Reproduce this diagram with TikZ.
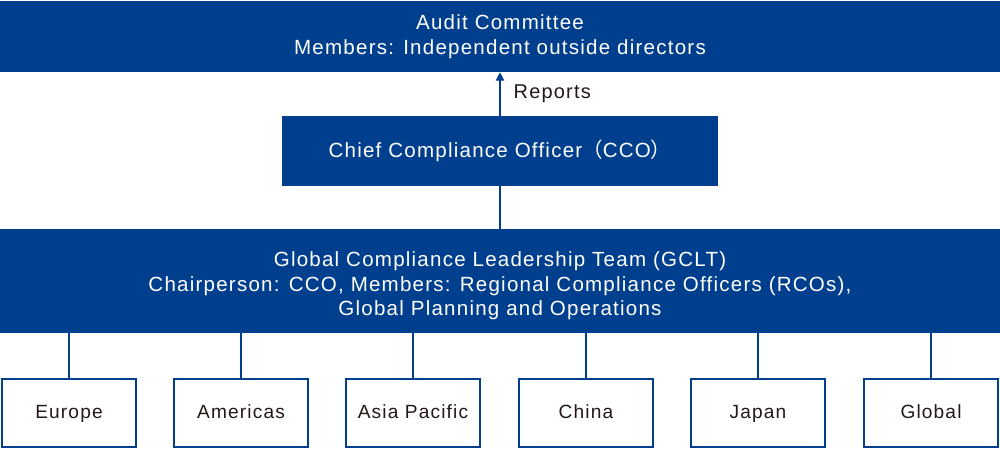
\documentclass[tikz,border=0pt]{standalone}
\usepackage{fontspec}
\setmainfont{Liberation Sans}[LetterSpace=6]
\newfontfamily\cjk{Noto Sans CJK JP}
\usepackage{xcolor}
\usepackage{tikz}
\usetikzlibrary{arrows.meta}
\definecolor{navy}{HTML}{003F8E}
\definecolor{ink}{HTML}{231815}

\begin{document}
\begin{tikzpicture}[x=0.025cm, y=-0.025cm,
        bar/.style={fill=navy, text=white, inner sep=0pt, align=center,
            font=\fontsize{14.6}{17.4}\selectfont},
        region/.style={draw=navy, line width=1.5pt, fill=white, text=ink,
            minimum width=3.35cm, minimum height=1.7cm, inner sep=0pt,
            text height=9.6pt, text depth=2.2pt,
            font=\fontsize{13.6}{15}\selectfont},
        link/.style={draw=navy, line width=0.8pt}]
    \useasboundingbox (0,0) rectangle (1000,450);
    % top and middle
    \node[bar, minimum width=25cm, minimum height=1.775cm] (audit) at (500,36.5)
        {Audit Committee\\Members: Independent outside directors};
    \node[bar, minimum width=10.9cm, minimum height=1.75cm] (cco) at (500,151)
        {Chief Compliance Officer{\cjk （}CCO{\cjk ）}};
    \node[bar, minimum width=25cm, minimum height=2.6cm] (gclt) at (500,281)
        {\rule{0pt}{17.5pt}Global Compliance Leadership Team (GCLT)\\
         Chairperson: CCO, Members: Regional Compliance Officers (RCOs),\\
         Global Planning and Operations};
    \draw[link, -{Triangle[width=6pt, length=6pt]}] (cco) -- (audit)
        node[midway, right=6pt, text=ink, font=\fontsize{14.2}{15}\selectfont] (rep) {Reports};
    \draw[link] (cco) -- (gclt);
    % regions
    \node[region] (eu) at (69,413) {Europe};
    \node[region] (am) at (241,413) {Americas};
    \node[region] (ap) at (413,413) {Asia Pacific};
    \node[region] (cn) at (586,413) {China};
    \node[region] (jp) at (758,413) {Japan};
    \node[region] (gl) at (931,413) {Global};
    \draw[link] (gclt.south -| eu) -- (eu);
    \draw[link] (gclt.south -| am) -- (am);
    \draw[link] (gclt.south -| ap) -- (ap);
    \draw[link] (gclt.south -| cn) -- (cn);
    \draw[link] (gclt.south -| jp) -- (jp);
    \draw[link] (gclt.south -| gl) -- (gl);
\end{tikzpicture}
\end{document}
